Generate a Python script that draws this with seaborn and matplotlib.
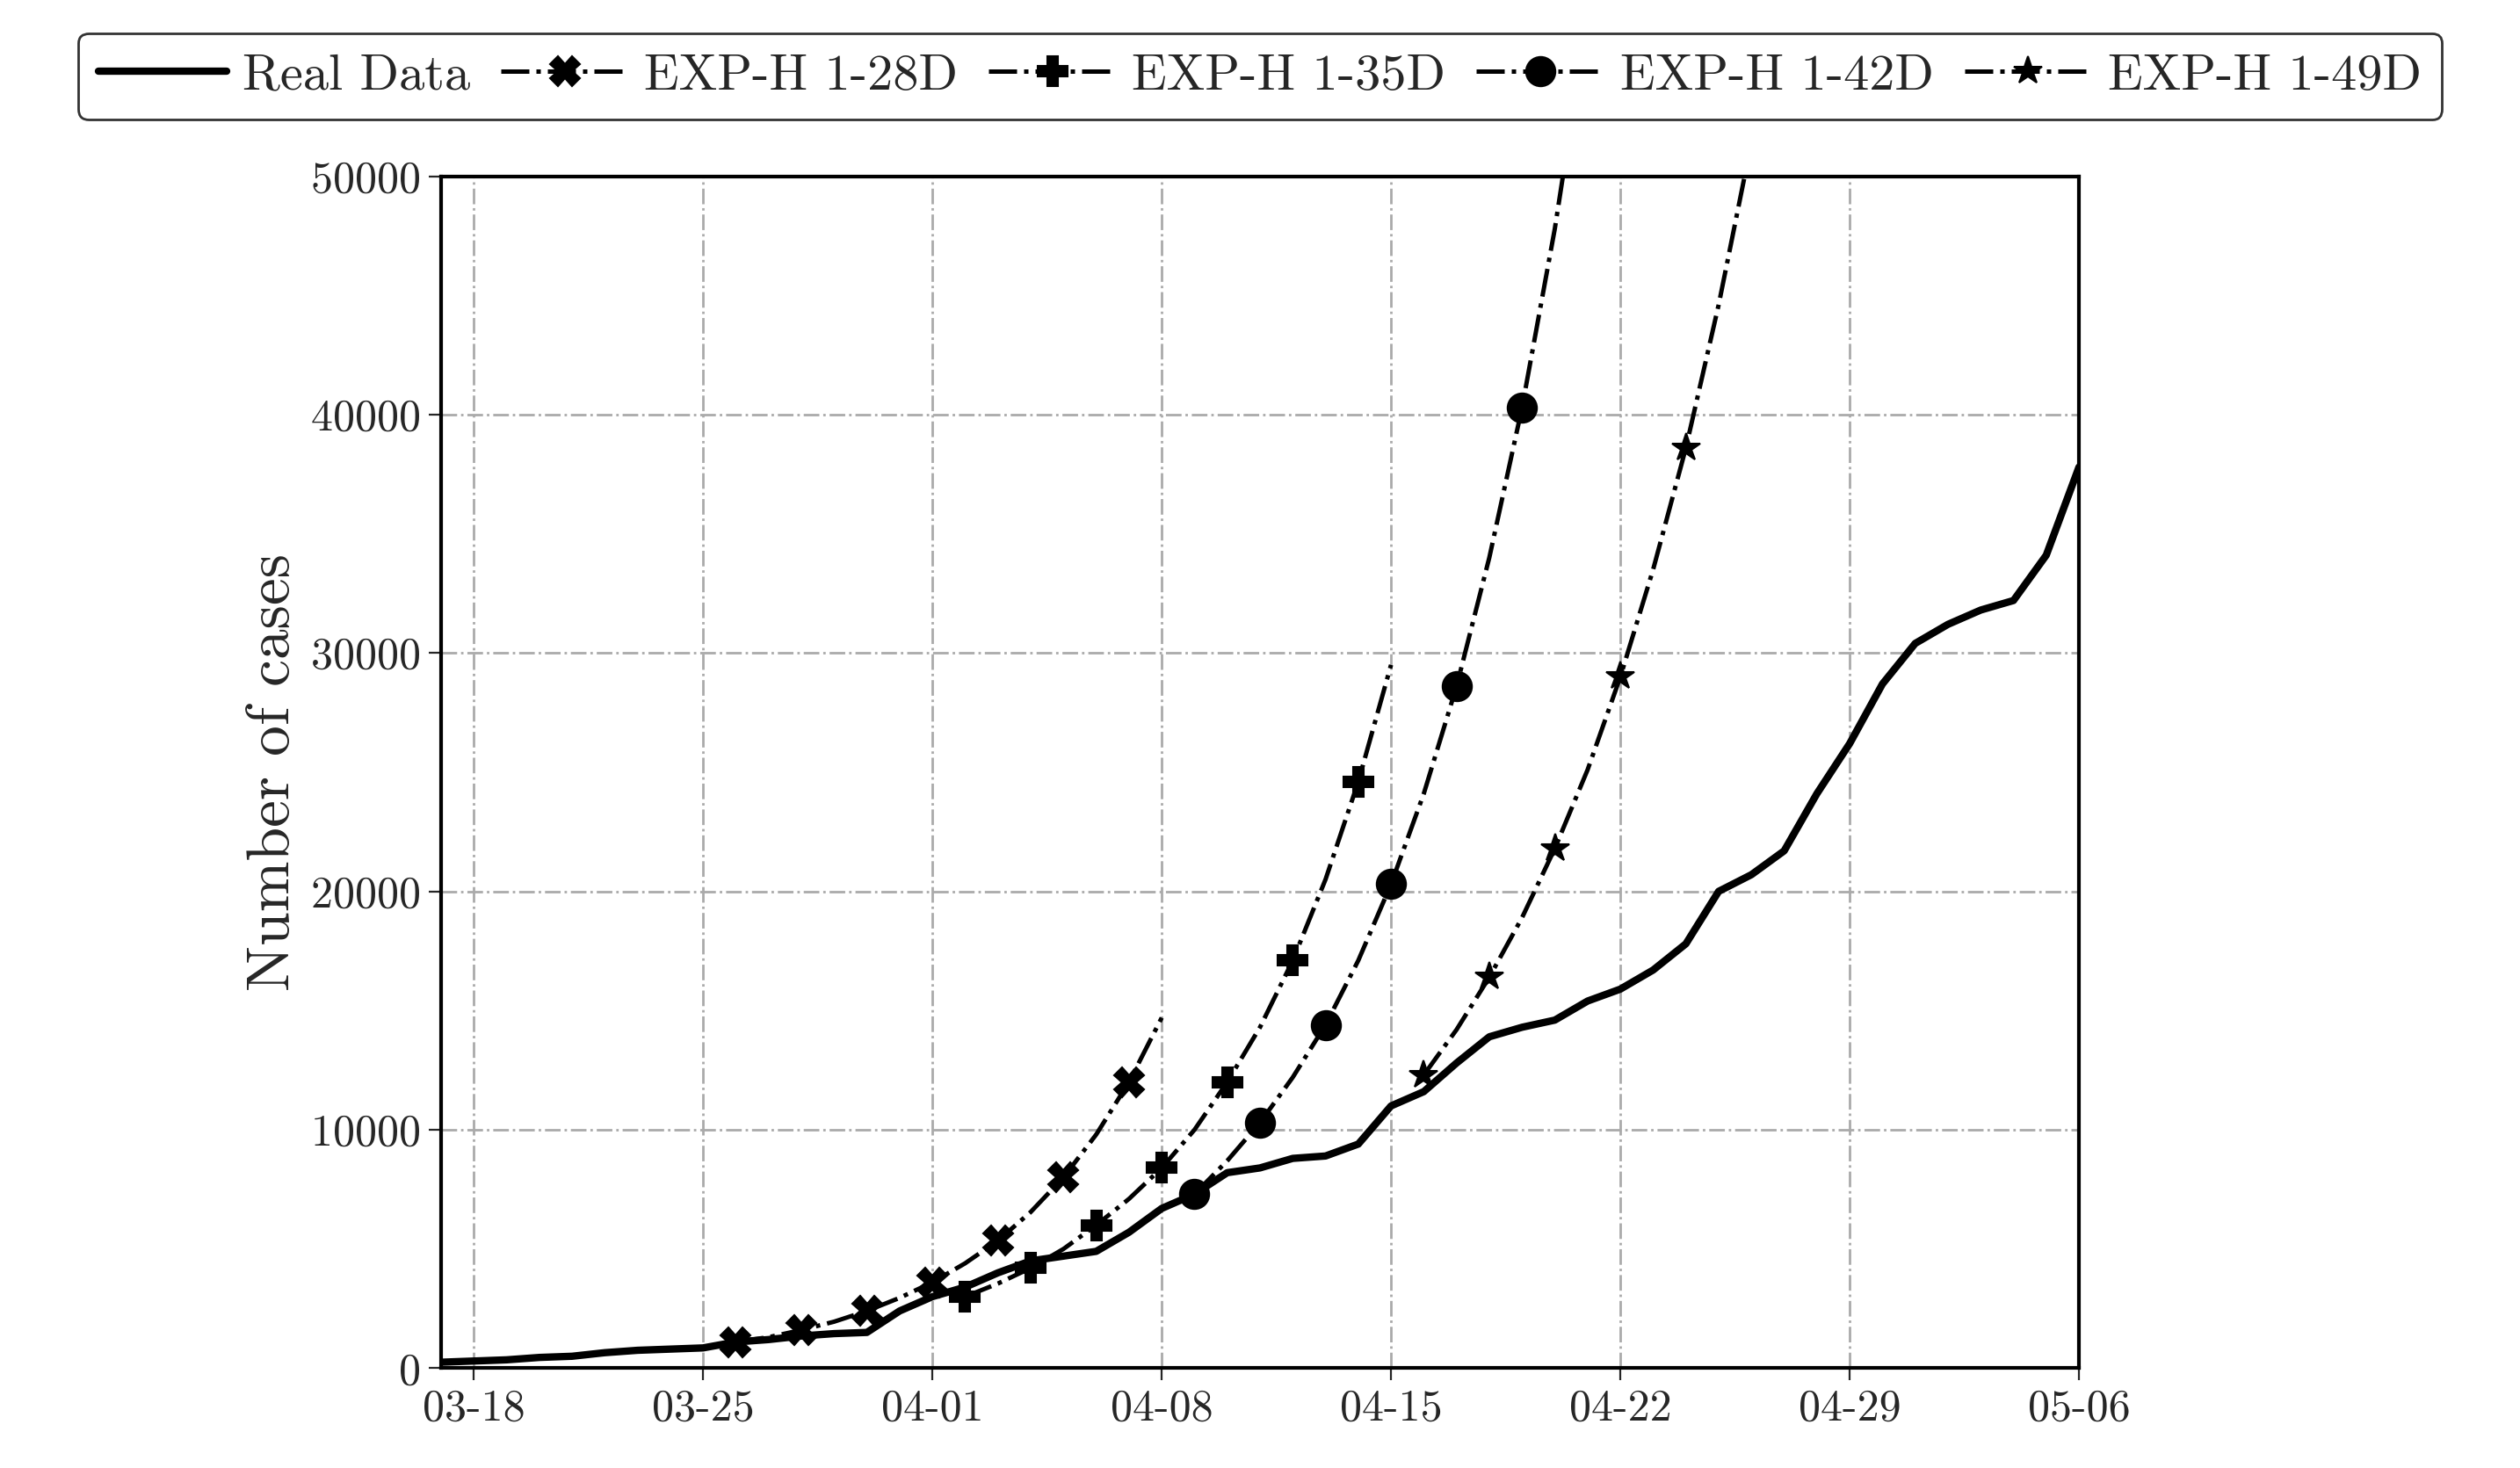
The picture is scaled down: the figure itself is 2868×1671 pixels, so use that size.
import numpy as np
import pandas as pd
import matplotlib
matplotlib.use("Agg")
import matplotlib.pyplot as plt
import matplotlib.dates as mdates
import seaborn as sns

sns.set_style("white")
plt.rcParams['font.family'] = ['serif']
plt.rcParams['font.serif'] = ['cmr10', 'DejaVu Serif']
plt.rcParams['mathtext.fontset'] = 'cm'
plt.rcParams['axes.formatter.use_mathtext'] = True

real_start = "2020-03-16"
real_vals = [200, 250, 300, 350, 450, 500, 650, 750, 800, 850, 1100, 1200, 1350, 1450, 1500,
             2400, 3000, 3400, 4000, 4500, 4700, 4900, 5700, 6700, 7300, 8200, 8400, 8800, 8900,
             9400, 11000, 11600, 12800, 13900, 14300, 14600, 15400, 15900, 16700, 17800, 20000,
             20700, 21700, 24100, 26200, 28700, 30400, 31200, 31800, 32200, 34100, 37800]

e28_start = "2020-03-26"
e28_vals = [1100, 1300, 1600, 1950, 2400, 2950, 3600, 4400, 5350, 6550, 8000, 9800, 12000, 14700]
e35_start = "2020-04-02"
e35_vals = [3000, 3550, 4200, 5000, 6000, 7100, 8400, 10000, 12000, 14300, 17100, 20500, 24600, 29500]
e42_start = "2020-04-09"
e42_vals = [7300, 8700, 10300, 12200, 14400, 17100, 20300, 24100, 28600, 34000, 40300, 47800, 56700]
e49_start = "2020-04-16"
e49_vals = [12300, 14200, 16400, 18900, 21800, 25100, 29000, 33500, 38600, 44600, 51400]

def frame(start, vals):
    return pd.DataFrame({"date": pd.date_range(start, periods=len(vals), freq="D"), "cases": vals})

fig = plt.figure(figsize=(14.34, 8.355), dpi=200)
ax = fig.add_axes([0.175, 0.068, 0.65, 0.812])

sns.lineplot(data=frame(real_start, real_vals), x="date", y="cases", ax=ax, color="black",
             lw=3, label="Real Data")
specs = [(e28_start, e28_vals, "X", "EXP-H 1-28D", 12),
         (e35_start, e35_vals, "P", "EXP-H 1-35D", 12),
         (e42_start, e42_vals, "o", "EXP-H 1-42D", 12),
         (e49_start, e49_vals, "*", "EXP-H 1-49D", 12)]
for s, v, m, lab, ms in specs:
    sns.lineplot(data=frame(s, v), x="date", y="cases", ax=ax, color="black", lw=1.8,
                 linestyle="-.", marker=m, markersize=ms, markevery=2, label=lab,
                 markeredgecolor="black")

ax.set_xlim(pd.Timestamp("2020-03-17"), pd.Timestamp("2020-05-06"))
ax.set_ylim(0, 50000)
ax.set_yticks(range(0, 50001, 10000))
ticks = pd.date_range("2020-03-18", "2020-05-06", freq="7D")
ax.set_xticks(ticks)
ax.set_xticklabels([t.strftime("%m-%d") for t in ticks])
ax.grid(True, color="#aaaaaa", linestyle="-.", lw=1)
ax.set_xlabel("")
ax.set_ylabel("Number of cases", fontsize=25)
ax.tick_params(labelsize=18, direction="out", length=5, left=True, bottom=True)
for sp in ax.spines.values():
    sp.set_color("black"); sp.set_linewidth(1.5)
ax.legend_.remove()
h, l = ax.get_legend_handles_labels()
fig.legend(h, l, ncol=5, loc="upper center", bbox_to_anchor=(0.5, 0.995), fontsize=21,
           frameon=True, edgecolor="black", fancybox=True, handlelength=2.5,
           columnspacing=0.6, handletextpad=0.3, borderpad=0.4)
fig.savefig("out.png", dpi=200)
